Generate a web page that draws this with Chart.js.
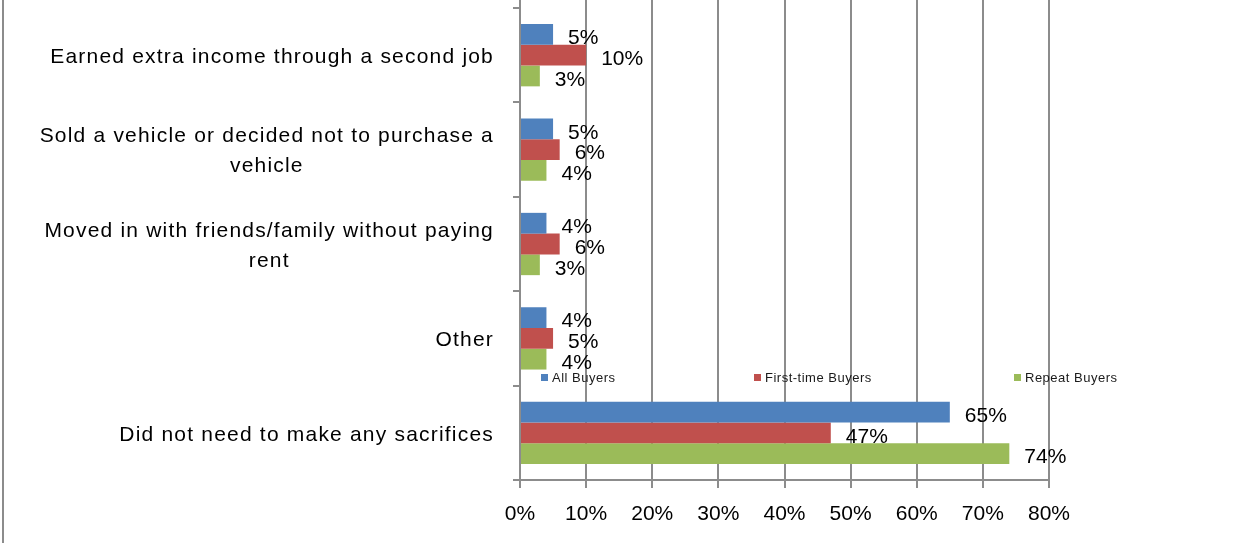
<!DOCTYPE html>
<html>
<head>
<meta charset="utf-8">
<script src="https://cdn.jsdelivr.net/npm/chart.js@4/dist/chart.umd.min.js"></script>
<style>
  html, body { margin: 0; padding: 0; background: #fff; overflow: hidden; }
</style>
</head>
<body>
<canvas id="sacrificeChart" width="1251" height="543"></canvas>
<script>
// survey categories (wrapped the same way the axis shows them)
const categories = [
  ['Earned extra income through a second job'],
  ['Sold a vehicle or decided not to purchase a', 'vehicle'],
  ['Moved in with friends/family without paying', 'rent'],
  ['Other'],
  ['Did not need to make any sacrifices'],
];
const seriesNames = ['All Buyers', 'First-time Buyers', 'Repeat Buyers'];
const allBuyers = [5, 5, 4, 4, 65];
const firstTimeBuyers = [10, 6, 6, 5, 47];
const repeatBuyers = [3, 4, 3, 4, 74];
const percentTicks = [0, 10, 20, 30, 40, 50, 60, 70, 80];

const GRID = '#8c8c8c';
const FONT = '"Liberation Sans", Arial, sans-serif';

// outer frame line + grid lines running past the top of the plot
const frameLines = {
  id: 'frameLines',
  beforeDatasetsDraw(chart) {
    const { ctx, chartArea, scales } = chart;
    ctx.save();
    ctx.strokeStyle = GRID;
    ctx.lineWidth = 2;
    ctx.beginPath();
    ctx.moveTo(3, 0);
    ctx.lineTo(3, chart.height);
    percentTicks.forEach(t => {
      const x = Math.round(scales.x.getPixelForValue(t));
      ctx.moveTo(x, 0);
      ctx.lineTo(x, chartArea.top);
    });
    ctx.stroke();
    ctx.restore();
  }
};

// category names: each block right-aligned to the axis, lines centred in the block
const categoryLabels = {
  id: 'categoryLabels',
  afterDraw(chart) {
    const { ctx, chartArea, scales } = chart;
    const right = chartArea.left - 26;
    const lineH = 30;
    ctx.save();
    ctx.font = '21px ' + FONT;
    ctx.letterSpacing = '1.2px';
    ctx.fillStyle = '#000';
    ctx.textAlign = 'center';
    ctx.textBaseline = 'middle';
    categories.forEach((lines, i) => {
      const w = Math.max(...lines.map(l => ctx.measureText(l).width));
      const cx = right - w / 2;
      const cy = scales.y.getPixelForValue(i) + 2 - (lines.length - 1) * lineH / 2;
      lines.forEach((l, k) => ctx.fillText(l, cx, cy + k * lineH));
    });
    ctx.restore();
  }
};

// percentage printed just past the end of every bar
const barValues = {
  id: 'barValues',
  afterDatasetsDraw(chart) {
    const { ctx } = chart;
    ctx.save();
    ctx.font = '21px ' + FONT;
    ctx.fillStyle = '#000';
    ctx.textAlign = 'left';
    ctx.textBaseline = 'middle';
    chart.data.datasets.forEach((ds, i) => {
      chart.getDatasetMeta(i).data.forEach((bar, j) => {
        ctx.fillText(ds.data[j] + '%', bar.x + 15, bar.y + 4);
      });
    });
    ctx.restore();
  }
};

// legend row sitting inside the plot area
const legendRow = {
  id: 'legendRow',
  afterDraw(chart) {
    const { ctx, chartArea } = chart;
    const offsets = [21, 234, 494];
    const y = chartArea.top + 370;
    ctx.save();
    ctx.font = '13px ' + FONT;
    ctx.letterSpacing = '0.5px';
    ctx.textAlign = 'left';
    ctx.textBaseline = 'middle';
    chart.data.datasets.forEach((ds, i) => {
      const x = chartArea.left + offsets[i];
      ctx.fillStyle = ds.backgroundColor;
      ctx.fillRect(x, y - 4, 7, 7);
      ctx.fillStyle = '#1a1a1a';
      ctx.fillText(ds.label, x + 11, y);
    });
    ctx.restore();
  }
};

const sacrificeData = {
  labels: categories,
  datasets: [
    { label: seriesNames[0], data: allBuyers, backgroundColor: '#4F81BD' },
    { label: seriesNames[1], data: firstTimeBuyers, backgroundColor: '#C0504D' },
    { label: seriesNames[2], data: repeatBuyers, backgroundColor: '#9BBB59' },
  ],
};

const sacrificeConfig = {
  type: 'bar',
  data: sacrificeData,
  options: {
    indexAxis: 'y',
    responsive: false,
    animation: false,
    devicePixelRatio: 1,
    categoryPercentage: 0.66,
    barPercentage: 1,
    layout: {
      padding: { top: 8, right: 202, left: 0, bottom: 0 },
    },
    scales: {
      x: {
        min: 0,
        max: 80,
        afterBuildTicks: s => { s.ticks = percentTicks.map(v => ({ value: v })); },
        afterFit: s => { s.height = 63; },
        grid: { color: GRID, lineWidth: 2, tickLength: 8 },
        border: { color: GRID, width: 2 },
        ticks: {
          color: '#000',
          padding: 14,
          font: { family: FONT, size: 21 },
          callback: v => v + '%',
        },
      },
      y: {
        afterFit: s => { s.width = 520; },
        grid: { drawOnChartArea: false, color: GRID, lineWidth: 2, tickLength: 7, offset: true },
        border: { color: GRID, width: 2 },
        ticks: { display: false },
      },
    },
    plugins: {
      legend: { display: false },
      tooltip: { enabled: false },
    },
  },
  plugins: [frameLines, barValues, categoryLabels, legendRow],
};

const sacrificeChart = new Chart(document.getElementById('sacrificeChart'), sacrificeConfig);
</script>
</body>
</html>
